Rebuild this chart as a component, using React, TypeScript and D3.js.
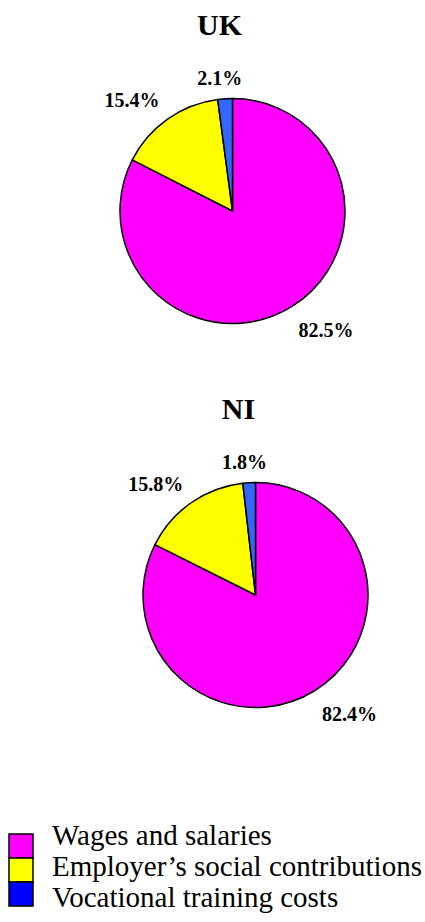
import React, { useRef, useEffect } from 'react';
import * as d3 from 'd3';

// series data
const categories = ['Wages and salaries', 'Employer\u2019s social contributions', 'Vocational training costs'];
const regions = ['UK', 'NI'];
const ukValues = [82.5, 15.4, 2.1];
const niValues = [82.4, 15.8, 1.8];
const labelsUK = ['82.5%', '15.4%', '2.1%'];
const labelsNI = ['82.4%', '15.8%', '1.8%'];

const pieColors = ['#FF00FF', '#FFFF00', '#3366FF'];
const legendColors = ['#FF00FF', '#FFFF00', '#0000FF'];

const FONT = 'Liberation Serif, DejaVu Serif, serif';

const App = () => {
  const ref = useRef<SVGSVGElement | null>(null);

  useEffect(() => {
    if (!ref.current) return;
    const svg = d3.select(ref.current);
    svg.selectAll('*').remove();

    const radius = 112.5;
    const panels = [
      { name: regions[0], values: ukValues, labels: labelsUK, cx: 232.5, cy: 211, titleX: 219.5, titleY: 35 },
      { name: regions[1], values: niValues, labels: labelsNI, cx: 255.5, cy: 595, titleX: 238.5, titleY: 419 },
    ];

    const pie = d3.pie<number>().sort(null).value((d) => d);
    const arc = d3.arc<d3.PieArcDatum<number>>().innerRadius(0).outerRadius(radius);

    panels.forEach((p) => {
      svg
        .append('text')
        .attr('x', p.titleX)
        .attr('y', p.titleY)
        .attr('text-anchor', 'middle')
        .attr('font-family', FONT)
        .attr('font-weight', 'bold')
        .attr('font-size', 30)
        .text(p.name);

      const g = svg.append('g').attr('transform', `translate(${p.cx},${p.cy})`);
      const arcs = pie(p.values);

      g.selectAll('path')
        .data(arcs)
        .join('path')
        .attr('d', arc)
        .attr('fill', (d, i) => pieColors[i])
        .attr('stroke', '#000')
        .attr('stroke-width', 1.5)
        .attr('stroke-linejoin', 'round');

      // labels sit just outside the rim, box edge touching
      const boxH = 22;
      arcs.forEach((d, i) => {
        const mid = (d.startAngle + d.endAngle) / 2;
        const sx = Math.sin(mid);
        const sy = -Math.cos(mid);
        const w = p.labels[i].length * 11.4;
        const rr = radius + 12;
        const ox = (w / 2) * Math.max(-1, Math.min(1, sx * 3));
        const oy = (boxH / 2) * Math.max(-1, Math.min(1, sy * 3));
        g.append('text')
          .attr('x', sx * rr + ox)
          .attr('y', sy * rr + oy + 9)
          .attr('text-anchor', 'middle')
          .attr('font-family', FONT)
          .attr('font-weight', 'bold')
          .attr('font-size', 20)
          .text(p.labels[i]);
      });
    });

    // legend
    const legend = svg.append('g').attr('transform', 'translate(9,834)');
    categories.forEach((c, i) => {
      legend
        .append('rect')
        .attr('x', 0)
        .attr('y', i * 24)
        .attr('width', 24)
        .attr('height', 24)
        .attr('fill', legendColors[i])
        .attr('stroke', '#000')
        .attr('stroke-width', 1.5);
      legend
        .append('text')
        .attr('x', 43)
        .attr('y', 11 + i * 31)
        .attr('font-family', FONT)
        .attr('font-size', 29)
        .text(c);
    });
  }, []);

  return (
    <svg
      ref={ref}
      width={425}
      height={922}
      style={{ position: 'absolute', left: 0, top: 0, background: '#fff' }}
    />
  );
};

export default App;
